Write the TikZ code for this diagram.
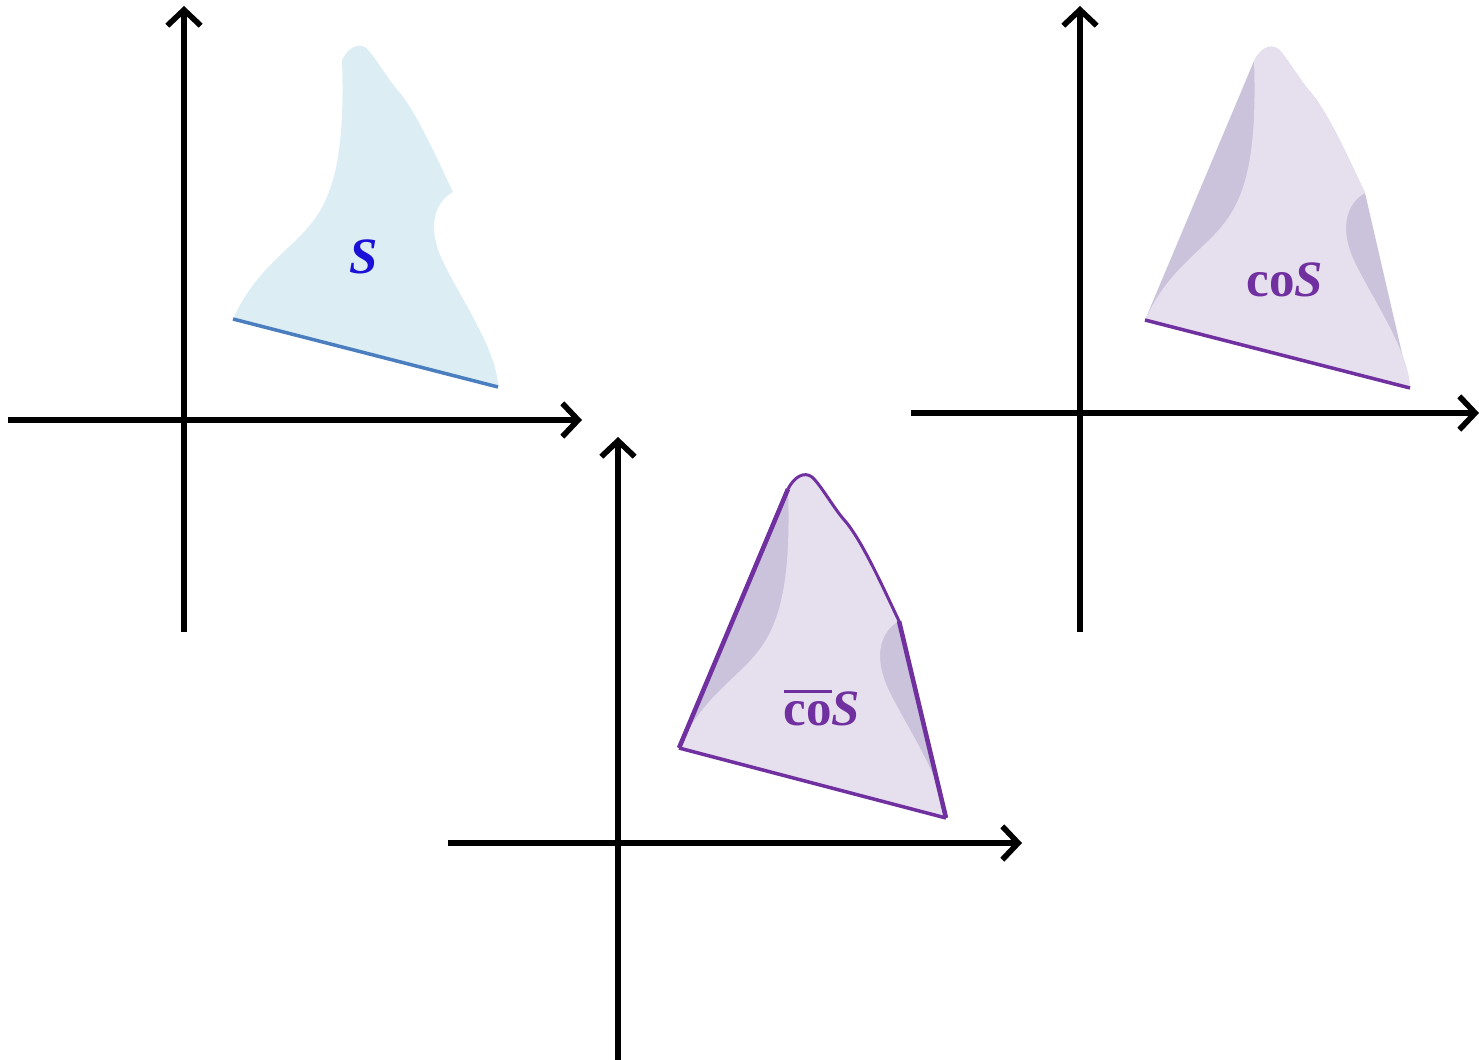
\documentclass[tikz,border=0pt]{standalone}
\usepackage{fontspec}
\setmainfont{Liberation Serif}
\usetikzlibrary{arrows.meta}

\definecolor{sfill}{HTML}{DCEEF4}
\definecolor{sline}{HTML}{4A7EBF}
\definecolor{stext}{HTML}{1A10D8}
\definecolor{hullline}{HTML}{7030A0}
\definecolor{hullfill}{HTML}{E6E0EE}
\definecolor{hulldark}{HTML}{CBC2DB}

% pieces of the boundary of S (pixel coordinates of the first panel)
\newcommand{\leftcurve}{.. controls (255,270) and (290,250) .. (310,225) .. controls (335,195) and (345,150) .. (342,60)}
\newcommand{\topcurve}{.. controls (348,48) and (358,42) .. (366,48) .. controls (375,56) and (388,80) .. (400,93) .. controls (418,115) and (440,165) .. (453,192)}
\newcommand{\notchcurve}{.. controls (435,202) and (428,225) .. (440,255) .. controls (455,290) and (498,350) .. (498,387)}
% bar over "co"
\newcommand{\cobar}{\setbox0\hbox{co}\rlap{\raisebox{0.64em}{\rule{\wd0}{0.055em}}}\box0}

\begin{document}
\begin{tikzpicture}[
    x=0.02cm, y=-0.02cm,
    axis/.style={line width=3.2pt, -{Straight Barb[length=9pt,width=19pt]}},
    base/.style={line width=2pt},
    label/.style={font=\fontsize{29}{32}\selectfont\bfseries, inner sep=0pt}
]
\useasboundingbox (0,0) rectangle (1479,1060);

% axes
\coordinate (x1a) at (8,420);    \coordinate (x1b) at (582,420);
\coordinate (y1a) at (184,632);  \coordinate (y1b) at (184,6);
\coordinate (x2a) at (911,413);  \coordinate (x2b) at (1479,413);
\coordinate (y2a) at (1080,632); \coordinate (y2b) at (1080,6);
\coordinate (x3a) at (448,843);  \coordinate (x3b) at (1022,843);
\coordinate (y3a) at (618,1060); \coordinate (y3b) at (618,437);

\draw[axis] (x1a) -- (x1b);
\draw[axis] (y1a) -- (y1b);
\draw[axis] (x2a) -- (x2b);
\draw[axis] (y2a) -- (y2b);
\draw[axis] (x3a) -- (x3b);
\draw[axis] (y3a) -- (y3b);

% the set S
\fill[sfill] (233,319) \leftcurve \topcurve \notchcurve -- cycle;
\draw[base, sline] (233,319) -- (498,387);
\node[label, stext] (lblS) at (364,257) {\textit{S}};

% its convex hull
\begin{scope}[shift={(912,1)}]
  \fill[hulldark] (233,319) -- (342,60) \topcurve -- (498,387) -- cycle;
  \fill[hullfill] (233,319) \leftcurve \topcurve \notchcurve -- cycle;
  \draw[base, hullline] (233,319) -- (498,387);
\end{scope}
\node[label, hullline] (lblco) at (1285,280) {co\textit{S}};

% its closed convex hull
\begin{scope}[shift={(446,429)}]
  \fill[hulldark] (233,319) -- (342,60) \topcurve -- (498,387) -- cycle;
  \fill[hullfill] (233,319) \leftcurve \topcurve \notchcurve -- cycle;
  \draw[base, hullline] (233,319) -- (500,389);
  \draw[hullline, line width=2.6pt] (233,319) -- (342,60);
  \draw[hullline, line width=1.7pt] (342,60) \topcurve;
  \draw[hullline, line width=2.6pt] (453,192) -- (500,389);
\end{scope}
\node[label, hullline] (lblcl) at (822,708) {\cobar\textit{S}};
\end{tikzpicture}
\end{document}
